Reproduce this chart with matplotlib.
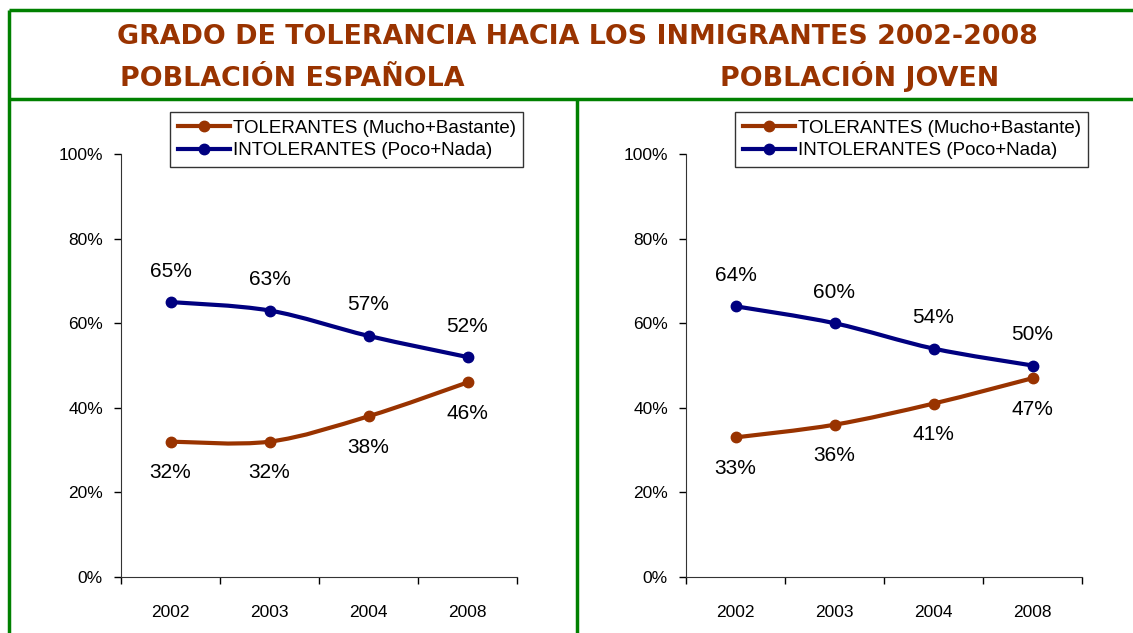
import matplotlib
matplotlib.use("Agg")
import matplotlib.pyplot as plt
from matplotlib import font_manager
from matplotlib.path import Path
from matplotlib.patches import PathPatch
from matplotlib.lines import Line2D
import numpy as np

years = ["2002", "2003", "2004", "2008"]
esp_tol = [32, 32, 38, 46]
esp_int = [65, 63, 57, 52]
jov_tol = [33, 36, 41, 47]
jov_int = [64, 60, 54, 50]

title = "GRADO DE TOLERANCIA HACIA LOS INMIGRANTES 2002-2008"
subtitles = ["POBLACIÓN ESPAÑOLA", "POBLACIÓN JOVEN"]
legend_labels = ["TOLERANTES (Mucho+Bastante)", "INTOLERANTES (Poco+Nada)"]

ORANGE = "#993300"
BLUE = "#000080"
GREEN = "#008000"

names = {f.name for f in font_manager.fontManager.ttflist}
narrow = "Liberation Sans Narrow" if "Liberation Sans Narrow" in names else "Liberation Sans"

W, H = 1133, 633
fig = plt.figure(figsize=(W / 100, H / 100), dpi=100)


def fx(px):
    return px / W


def fy(py):
    return 1 - py / H


# green frame
for xs, ys in [([9, W], [10, 10]), ([9, W], [99, 99]), ([9, 9], [10, H]), ([577, 577], [99, H])]:
    fig.add_artist(Line2D([fx(x) for x in xs], [fy(y) for y in ys], color=GREEN, lw=2.5,
                          transform=fig.transFigure, solid_capstyle="butt"))

tfont = dict(color=ORANGE, fontsize=19.4, fontweight="bold", family="DejaVu Sans",
             ha="center", va="baseline")
fig.text(fx(577), fy(44), title, **tfont)
fig.text(fx(292), fy(86), subtitles[0], **tfont)
fig.text(fx(860), fy(86), subtitles[1], **tfont)


def smooth_path(xs, ys):
    # cubic bezier through the points (Excel-like smoothed line)
    pts = np.column_stack([xs, ys]).astype(float)
    verts = [pts[0]]
    codes = [Path.MOVETO]
    n = len(pts)
    for i in range(n - 1):
        p0 = pts[i - 1] if i > 0 else pts[i]
        p1 = pts[i]
        p2 = pts[i + 1]
        p3 = pts[i + 2] if i + 2 < n else pts[i + 1]
        verts += [p1 + (p2 - p0) / 6, p2 - (p3 - p1) / 6, p2]
        codes += [Path.CURVE4] * 3
    return Path(verts, codes)


def panel(left_px, tol, intol):
    ax = fig.add_axes([fx(left_px), fy(577), 396 / W, (577 - 154) / H])
    x = np.arange(len(years))
    for vals, col in [(tol, ORANGE), (intol, BLUE)]:
        y = np.array(vals) / 100
        ax.add_patch(PathPatch(smooth_path(x, y), fill=False, edgecolor=col, lw=3, capstyle="round"))
        ax.plot(x, y, "o", color=col, ms=7.5, zorder=3)
    handles = [Line2D([], [], color=ORANGE, lw=3, marker="o", ms=7.5),
               Line2D([], [], color=BLUE, lw=3, marker="o", ms=7.5)]
    for i in x:
        ax.annotate(f"{intol[i]}%", (i, intol[i] / 100), xytext=(0, 31), textcoords="offset pixels",
                    ha="center", va="center", fontsize=15, family="Liberation Sans")
        ax.annotate(f"{tol[i]}%", (i, tol[i] / 100), xytext=(0, -31), textcoords="offset pixels",
                    ha="center", va="center", fontsize=15, family="Liberation Sans")
    ax.set_xlim(-0.5, len(years) - 0.5)
    ax.set_ylim(0, 1)
    ax.set_yticks(np.arange(0, 1.01, 0.2))
    ax.set_yticklabels([f"{int(v)}%" for v in np.arange(0, 101, 20)], family=narrow, fontsize=12.5)
    ax.set_xticks(np.arange(-0.5, len(years), 1))
    ax.set_xticklabels([])
    ax.set_xticks(x, minor=True)
    ax.set_xticklabels(years, minor=True, family=narrow, fontsize=12.5)
    ax.tick_params(axis="x", which="minor", length=0, pad=20)
    ax.tick_params(axis="x", which="major", length=5, direction="out", width=1)
    ax.tick_params(axis="y", length=5, direction="out", width=1, pad=8)
    for s in ["top", "right"]:
        ax.spines[s].set_visible(False)
    for s in ["left", "bottom"]:
        ax.spines[s].set_color("#333333")
    leg = fig.legend(handles, legend_labels, loc="upper left",
                     bbox_to_anchor=(fx(left_px + 49), fy(112)), frameon=True, fancybox=False,
                     prop={"family": narrow, "size": 13.5}, handlelength=2.8, handletextpad=0.15,
                     borderpad=0.4, labelspacing=0.3, borderaxespad=0)
    leg.get_frame().set_edgecolor("black")
    leg.get_frame().set_linewidth(1)
    return ax


panel(121, esp_tol, esp_int)
panel(686, jov_tol, jov_int)

fig.savefig("out.png", dpi=100)
